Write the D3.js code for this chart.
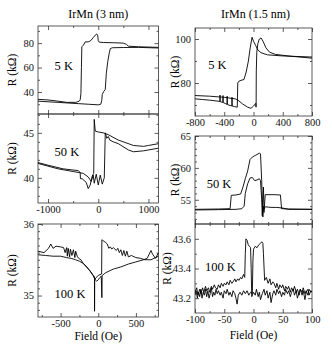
<!DOCTYPE html>
<html>
<head>
<meta charset="utf-8">
<style>
    body { margin: 0; background: #fff; }
    svg { font-family: 'Liberation Serif', 'DejaVu Serif', serif; }
    .tick line { stroke: #333; stroke-width: 0.8; }
    .tick text { font-family: 'Liberation Serif', 'DejaVu Serif', serif; font-size: 10.5px; fill: #111; }
    .domain { display: none; }
    .frame { fill: none; stroke: #333; stroke-width: 0.8; }
    .curve { fill: none; stroke: #000; stroke-width: 0.9; stroke-linejoin: round; }
</style>
</head>
<body>
<svg width="332" height="357"></svg>
<script src="https://d3js.org/d3.v7.min.js"></script>
<script>
// ---- data: [field (Oe), R (kOhm)] ----

// IrMn (3 nm), 5 K
let thick5Up = [[-1200,32.5],[-1000,32],[-800,31.5],[-600,31],[-400,30.5],[-200,30],[0,29.5],[50,30],[70,33],[80,38],[110,40.5],[140,42],[160,55],[190,65],[220,72],[240,75.5],[280,76.2],[500,76.4],[800,76.5],[1200,76]]
let thick5Down = [[-1200,34],[-1000,33.5],[-800,32.5],[-627,31.5],[-450,31.5],[-380,32.5],[-360,33.5],[-345,39],[-335,60],[-327,77],[-293,78.4],[-260,81],[-200,81],[-150,82],[-100,84.5],[-60,86.5],[-30,87.5],[-10,86],[0,82],[20,80.8],[100,80.5],[300,80.3],[500,80],[560,79],[600,77.5],[800,77],[1200,76.5]]

// IrMn (3 nm), 50 K
let thick50Down = [[-1200,41.7],[-1000,41.4],[-700,41.0],[-400,40.8],[-360,40.6],[-355,39.9],[-320,39.9],[-280,39.7],[-240,39.5],[-200,38.8],[-160,39.2],[-120,40.2],[-90,40.5],[-80,46.5],[-60,45.2],[0,45.1],[100,45.0],[200,44.8],[400,44.2],[700,43.6],[900,43.5],[1000,43.6],[1200,43.8]]
let thick50Up = [[-1200,41.6],[-800,41.0],[-500,40.7],[-400,40.6],[-300,40.5],[-200,40.1],[-140,39.6],[-100,40.3],[-80,39.4],[-40,40.4],[0,39.2],[40,40.3],[80,39.3],[120,40],[140,45.0],[170,44.4],[200,44.6],[230,44.2],[300,44],[400,43.8],[600,43.1],[700,42.9],[900,43.0],[1200,43.3]]

// IrMn (3 nm), 100 K
let thick100Down = [[-800,35.62],[-720,35.6],[-660,35.66],[-630,35.72],[-600,35.66],[-560,35.69],[-500,35.68],[-460,35.67],[-440,35.6],[-420,35.67],[-410,35.55],[-400,35.66],[-380,35.54],[-370,35.65],[-350,35.56],[-330,35.64],[-310,35.53],[-300,35.62],[-280,35.55],[-260,35.52],[-230,35.5],[-200,35.45],[-160,35.4],[-120,35.36],[-80,35.3],[-60,35.28],[-50,35.26],[-49,34.78],[-47,35.22],[-30,35.25],[0,35.28],[40,35.3],[45,35.3],[48,35.78],[60,35.77],[100,35.74],[120,35.72],[140,35.66],[160,35.68],[180,35.65],[200,35.67],[240,35.63],[260,35.66],[280,35.6],[300,35.64],[320,35.56],[340,35.63],[360,35.55],[380,35.62],[400,35.54],[440,35.56],[500,35.53],[560,35.52],[620,35.5],[700,35.5],[800,35.55]]
let thick100Up = [[-800,35.57],[-700,35.56],[-600,35.55],[-500,35.55],[-420,35.53],[-360,35.52],[-300,35.5],[-250,35.48],[-200,35.45],[-150,35.4],[-100,35.33],[-70,35.28],[-40,35.22],[-20,35.2],[0,35.22],[20,35.25],[40,35.27],[48,34.97],[52,35.28],[100,35.32],[200,35.37],[300,35.4],[400,35.44],[500,35.47],[600,35.5],[650,35.52],[700,35.63],[720,35.58],[760,35.52],[800,35.6]]

// IrMn (1.5 nm), 5 K
let thin5Up = [[-800,72.8],[-700,72.5],[-600,72.2],[-500,71.8],[-460,71.6],[-458,74.5],[-455,71.5],[-420,71.2],[-417,74.3],[-414,71.1],[-380,70.6],[-362,70.3],[-360,74],[-357,70.2],[-320,69.8],[-296,69.6],[-294,73.5],[-291,69.5],[-260,69.3],[-239,69.1],[-222,69],[-215,80],[-200,80.8],[-170,81.2],[-130,81.6],[-100,85],[-70,90],[-45,96],[-20,100.8],[0,99],[30,97],[60,95],[100,93.8],[190,92.8],[400,92.3],[800,91.8]]
let thin5Down = [[-800,74.3],[-600,74],[-400,73.5],[-250,72.8],[-216,72.3],[-150,70.5],[-80,69],[-34,68.5],[0,69.5],[25,70.5],[32,70.8],[34,69],[36,70.5],[38,85],[45,94],[60,98],[80,100],[103,100.5],[130,99],[170,96],[220,94],[300,93],[500,92.2],[800,91.3]]

// IrMn (1.5 nm), 50 K
let thin50A = [[-100,53.5],[-60,53.55],[-40,53.6],[-38,55.7],[-30,55.75],[-22,55.9],[-18,57],[-14,58.3],[-10,59.5],[-6,61.3],[-2,61.7],[4,62],[10,62.3],[12,62.2],[14,58],[16,52.3],[17,54],[18,53],[20,55.8],[35,55.8],[46,55.75],[48,53.6],[60,53.55],[100,53.5]]
let thin50B = [[-100,53.4],[-60,53.45],[-30,53.5],[-20,53.6],[-16,54],[-14,56],[-10,57.5],[-6,58.4],[-2,58.5],[2,58],[6,58.1],[10,58.3],[12,58],[14,55],[15,52.5],[17,57],[18,53.5],[20,53.9],[30,53.8],[40,53.8],[50,53.7],[60,53.5],[100,53.5]]

// IrMn (1.5 nm), 100 K
let thin100A = [[-100,43.22],[-98,43.25],[-96,43.2],[-94,43.24],[-92,43.21],[-90,43.26],[-88,43.2],[-86,43.24],[-84,43.22],[-82,43.26],[-80,43.21],[-78,43.25],[-76,43.2],[-74,43.23],[-72,43.27],[-70,43.21],[-68,43.24],[-66,43.22],[-64,43.26],[-62,43.23],[-60,43.25],[-57,43.22],[-55,43.24],[-52,43.2],[-50,43.25],[-47,43.23],[-45,43.26],[-42,43.22],[-40,43.24],[-37,43.21],[-35,43.25],[-32,43.23],[-30,43.2],[-28,43.16],[-26,43.22],[-23,43.24],[-20,43.22],[-17,43.25],[-14,43.23],[-11,43.25],[-8,43.22],[-5,43.24],[-2,43.23],[-1,43.45],[0,43.53],[3,43.55],[6,43.54],[9,43.56],[12,43.57],[14,43.58],[16,43.57],[17,43.5],[19,43.32],[22,43.34],[25,43.3],[28,43.33],[30,43.29],[33,43.31],[35,43.3],[38,43.27],[40,43.3],[43,43.26],[45,43.29],[48,43.27],[50,43.29],[53,43.25],[55,43.28],[58,43.26],[60,43.28],[63,43.24],[65,43.27],[68,43.25],[70,43.28],[73,43.24],[75,43.26],[78,43.22],[80,43.26],[83,43.24],[85,43.27],[88,43.23],[90,43.25],[93,43.22],[95,43.26],[98,43.24],[100,43.25]]
let thin100B = [[-100,43.24],[-97,43.27],[-95,43.22],[-92,43.26],[-90,43.23],[-87,43.27],[-85,43.24],[-82,43.28],[-80,43.25],[-77,43.27],[-75,43.24],[-72,43.28],[-70,43.26],[-67,43.29],[-65,43.27],[-62,43.26],[-60,43.29],[-57,43.27],[-55,43.3],[-52,43.28],[-50,43.3],[-47,43.29],[-45,43.31],[-42,43.29],[-40,43.32],[-37,43.3],[-35,43.31],[-32,43.33],[-30,43.31],[-27,43.33],[-25,43.32],[-22,43.34],[-20,43.33],[-17,43.36],[-15,43.34],[-14,43.5],[-13,43.6],[-11,43.59],[-9,43.56],[-7,43.55],[-5,43.54],[-4,43.4],[-3,43.21],[0,43.24],[3,43.22],[5,43.26],[8,43.21],[10,43.24],[12,43.19],[15,43.23],[18,43.26],[20,43.22],[23,43.25],[25,43.2],[28,43.24],[30,43.17],[33,43.23],[35,43.25],[38,43.22],[40,43.26],[43,43.23],[45,43.25],[48,43.21],[50,43.24],[53,43.22],[55,43.26],[58,43.23],[60,43.25],[63,43.21],[65,43.24],[68,43.26],[70,43.22],[73,43.25],[75,43.2],[78,43.24],[80,43.26],[83,43.22],[85,43.25],[88,43.19],[90,43.24],[93,43.26],[95,43.22],[98,43.25],[100,43.24]]

// titles / labels
let columnTitles = ["IrMn (3 nm)", "IrMn (1.5 nm)"]
let tempLabels = ["5 K", "50 K", "100 K"]
let xTitle = "Field (Oe)"
let yTitle = "R (k\u03a9)"

// ---- layout ----
let svg = d3.select("svg")

let leftCol = { x0: 38, x1: 158.5 }
let rightCol = { x0: 195, x1: 312 }

let panels = [
    // left column
    { col: leftCol, y0: 26, y1: 114, xDom: [-1200, 1200], yDom: [22, 94], series: [thick5Up, thick5Down],
      xMajor: [-1000, 0, 1000], xMinor: [-500, 500], xLabels: false,
      yMajor: [40, 60, 80], yMinor: [30, 50, 70, 90], label: tempLabels[0], labelAt: [-870, 60], yTitleX: 13 },
    { col: leftCol, y0: 114, y1: 203, xDom: [-1200, 1200], yDom: [37.2, 47.1], series: [thick50Down, thick50Up],
      xMajor: [-1000, 0, 1000], xMinor: [-500, 500], xLabels: true,
      yMajor: [40, 45], yMinor: [38, 39, 41, 42, 43, 44, 46, 47], label: tempLabels[1], labelAt: [-870, 42.7], yTitleX: 13 },
    { col: leftCol, y0: 224, y1: 317, xDom: [-800, 800], yDom: [34.7, 36.0], series: [thick100Down, thick100Up],
      xMajor: [-500, 0, 500], xMinor: [-750, -250, 250, 750], xLabels: true,
      yMajor: [35, 36], yMinor: [34.8, 34.9, 35.1, 35.2, 35.3, 35.4, 35.5, 35.6, 35.7, 35.8, 35.9], label: tempLabels[2], labelAt: [-580, 35.0], yTitleX: 13 },
    // right column
    { col: rightCol, y0: 28, y1: 116, xDom: [-800, 800], yDom: [65, 105], series: [thin5Up, thin5Down],
      xMajor: [-800, -400, 0, 400, 800], xMinor: [-600, -200, 200, 600], xLabels: true,
      yMajor: [80, 100], yMinor: [70, 90], label: tempLabels[0], labelAt: [-620, 87.5], yTitleX: 176 },
    { col: rightCol, y0: 136, y1: 224, xDom: [-100, 100], yDom: [51.2, 65], series: [thin50A, thin50B],
      xMajor: [-100, -50, 0, 50, 100], xMinor: [-75, -25, 25, 75], xLabels: false,
      yMajor: [55, 60, 65], yMinor: [52, 53, 54, 56, 57, 58, 59, 61, 62, 63, 64], label: tempLabels[1], labelAt: [-80, 57.3], yTitleX: 176 },
    { col: rightCol, y0: 224, y1: 313, xDom: [-100, 100], yDom: [43.1, 43.7], series: [thin100A, thin100B],
      xMajor: [-100, -50, 0, 50, 100], xMinor: [-75, -25, 25, 75], xLabels: true,
      yMajor: [43.2, 43.4, 43.6], yMinor: [43.3, 43.5], label: tempLabels[2], labelAt: [-83, 43.4], yTitleX: 168 }
]

let fmt = function (d) { return String(d) }

panels.forEach(function (p) {
    let x = d3.scaleLinear().domain(p.xDom).range([p.col.x0, p.col.x1])
    let y = d3.scaleLinear().domain(p.yDom).range([p.y1, p.y0])
    let g = svg.append("g")

    // inward ticks on all four sides
    g.append("g").attr("transform", `translate(0,${p.y1})`)
        .call(d3.axisBottom(x).tickValues(p.xMajor).tickSize(-4).tickPadding(3)
            .tickFormat(p.xLabels ? fmt : ""))
    g.append("g").attr("transform", `translate(0,${p.y1})`)
        .call(d3.axisBottom(x).tickValues(p.xMinor).tickSize(-2).tickFormat(""))
    g.append("g").attr("transform", `translate(0,${p.y0})`)
        .call(d3.axisTop(x).tickValues(p.xMajor).tickSize(-4).tickFormat(""))
    g.append("g").attr("transform", `translate(0,${p.y0})`)
        .call(d3.axisTop(x).tickValues(p.xMinor).tickSize(-2).tickFormat(""))
    g.append("g").attr("transform", `translate(${p.col.x0},0)`)
        .call(d3.axisLeft(y).tickValues(p.yMajor).tickSize(-4).tickPadding(4).tickFormat(fmt))
    g.append("g").attr("transform", `translate(${p.col.x0},0)`)
        .call(d3.axisLeft(y).tickValues(p.yMinor).tickSize(-2).tickFormat(""))
    g.append("g").attr("transform", `translate(${p.col.x1},0)`)
        .call(d3.axisRight(y).tickValues(p.yMajor).tickSize(-4).tickFormat(""))
    g.append("g").attr("transform", `translate(${p.col.x1},0)`)
        .call(d3.axisRight(y).tickValues(p.yMinor).tickSize(-2).tickFormat(""))

    g.append("rect").attr("class", "frame")
        .attr("x", p.col.x0).attr("y", p.y0)
        .attr("width", p.col.x1 - p.col.x0).attr("height", p.y1 - p.y0)

    let clipId = "clip" + Math.round(p.col.x0) + "_" + Math.round(p.y0)
    g.append("clipPath").attr("id", clipId).append("rect")
        .attr("x", p.col.x0).attr("y", p.y0)
        .attr("width", p.col.x1 - p.col.x0).attr("height", p.y1 - p.y0)

    let line = d3.line().x(function (d) { return x(d[0]) }).y(function (d) { return y(d[1]) })
    g.append("g").attr("clip-path", `url(#${clipId})`)
        .selectAll("path")
        .data(p.series)
        .join("path")
        .attr("class", "curve")
        .attr("d", line)

    g.append("text")
        .attr("x", x(p.labelAt[0])).attr("y", y(p.labelAt[1]))
        .attr("dominant-baseline", "middle")
        .style("font-size", "12.5px")
        .text(p.label)

    g.append("text")
        .attr("transform", `translate(${p.yTitleX},${(p.y0 + p.y1) / 2}) rotate(-90)`)
        .attr("text-anchor", "middle")
        .attr("dominant-baseline", "middle")
        .style("font-size", "11.5px")
        .text(yTitle)
})

// column titles and x titles
svg.append("text").attr("x", (leftCol.x0 + leftCol.x1) / 2).attr("y", 15)
    .attr("text-anchor", "middle").attr("dominant-baseline", "middle")
    .style("font-size", "12px").text(columnTitles[0])
svg.append("text").attr("x", (rightCol.x0 + rightCol.x1) / 2 + 2).attr("y", 15)
    .attr("text-anchor", "middle").attr("dominant-baseline", "middle")
    .style("font-size", "12px").text(columnTitles[1])

svg.append("text").attr("x", (leftCol.x0 + leftCol.x1) / 2).attr("y", 337)
    .attr("text-anchor", "middle").attr("dominant-baseline", "middle")
    .style("font-size", "11.5px").text(xTitle)
svg.append("text").attr("x", (rightCol.x0 + rightCol.x1) / 2).attr("y", 336)
    .attr("text-anchor", "middle").attr("dominant-baseline", "middle")
    .style("font-size", "11.5px").text(xTitle)
</script>
</body>
</html>
